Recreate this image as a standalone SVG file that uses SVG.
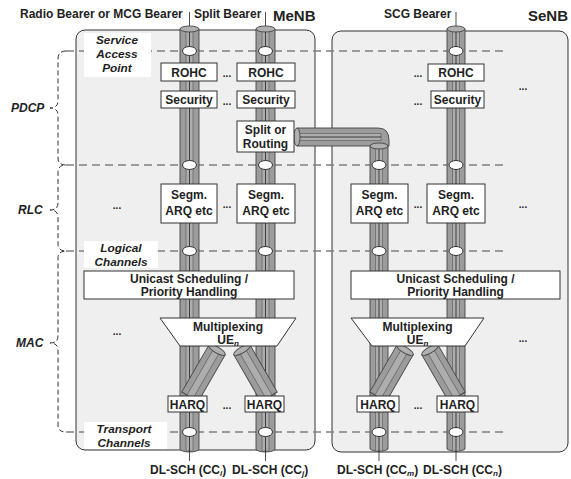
<svg xmlns="http://www.w3.org/2000/svg" width="571" height="479" viewBox="0 0 571 479">
<defs>
<style>
text{font-family:"Liberation Sans",Arial,sans-serif;font-weight:bold;fill:#222;}
.t{font-size:12px;text-anchor:middle;}
.hd{font-size:12px;}
.big{font-size:15px;}
.it{font-style:italic;font-size:11.8px;text-anchor:middle;}
.dots{font-size:10px;text-anchor:middle;}
.enb{fill:#efefef;stroke:#333;stroke-width:1;}
.box{fill:#fff;stroke:#333;stroke-width:1;}
.lbl{fill:#fff;stroke:none;}
.dash{stroke:#808080;stroke-width:1.4;stroke-dasharray:8 5;fill:none;}
.brace{stroke:#333;stroke-width:1;stroke-dasharray:5 3;fill:none;}
.tube{fill:#9c9c9c;stroke:#444;stroke-width:0.9;}
.cap{fill:#b0b0b0;stroke:#444;stroke-width:0.9;}
.strip{fill:#adadad;stroke:#555;stroke-width:0.6;}
.cl{stroke:#222;stroke-width:0.8;fill:none;}
.sap{fill:#fff;stroke:#333;stroke-width:1;}
</style>
</defs>

<!-- eNB containers -->
<g id="menb"><rect class="enb" x="76" y="30" width="239" height="420" rx="9"/></g>
<g id="senb"><rect class="enb" x="332" y="31" width="236" height="421" rx="9"/></g>

<!-- layer separation lines and brace -->
<g id="layers">
<path class="dash" d="M66,51 H508 M66,165 H508 M66,251 H508 M66,432 H508"/>
<path class="brace" d="M66,51 Q58,51 58,59 V101 Q58,108 50,108 Q58,108 58,115 V158 Q58,165 66,165 Q58,165 58,172 V203 Q58,210 50,210 Q58,210 58,217 V244 Q58,251 66,251 Q58,251 58,258 V336 Q58,343 50,343 Q58,343 58,350 V425 Q58,432 66,432"/>
<text x="11" y="112" class="hd" font-style="italic" font-size="11px">PDCP</text>
<text x="18" y="214" class="hd" font-style="italic">RLC</text>
<text x="16" y="347" class="hd" font-style="italic">MAC</text>
</g>

<!-- connectors: bearer tubes -->
<g id="connectors">
<path class="cl" d="M189.5,12 V29 M265.5,12 V29 M456,12 V29 M189.5,449 V461 M265.5,449 V461 M379,449 V461 M456,449 V461"/>
<!-- tube 1 -->
<path class="tube" d="M180,29 V449 A9.5,3 0 0 0 199,449 V29 Z"/>
<rect class="strip" x="186" y="31" width="7" height="420"/>
<line class="cl" x1="189.5" y1="31" x2="189.5" y2="452"/>
<ellipse class="cap" cx="189.5" cy="29" rx="9.5" ry="3"/>
<!-- tube 2 -->
<path class="tube" d="M256,29 V449 A9.5,3 0 0 0 275,449 V29 Z"/>
<rect class="strip" x="262" y="31" width="7" height="420"/>
<line class="cl" x1="265.5" y1="31" x2="265.5" y2="452"/>
<ellipse class="cap" cx="265.5" cy="29" rx="9.5" ry="3"/>
<!-- routing pipe -->
<path class="tube" d="M297,128 H378 Q389,128 389,140 V146 H370 H297 Z"/>
<rect class="strip" x="297" y="133.5" width="84" height="7"/>
<line class="cl" x1="297" y1="137" x2="381" y2="137"/>
<ellipse class="cap" cx="297" cy="137" rx="3" ry="9"/>
<!-- tube 3 -->
<path class="tube" d="M370,146 V449 A9.5,3 0 0 0 388,449 V146 Z"/>
<rect class="strip" x="375.5" y="148" width="7" height="303"/>
<line class="cl" x1="379" y1="146" x2="379" y2="452"/>
<ellipse class="cap" cx="379" cy="146" rx="9" ry="3"/>
<!-- tube 4 -->
<path class="tube" d="M447,29 V449 A9.5,3 0 0 0 465,449 V29 Z"/>
<rect class="strip" x="452.5" y="31" width="7" height="420"/>
<line class="cl" x1="456" y1="31" x2="456" y2="452"/>
<ellipse class="cap" cx="456" cy="29" rx="9" ry="3"/>
<!-- diagonal tubes MeNB -->
<g transform="translate(217,350) rotate(30)">
<path class="tube" d="M-9.5,0 V54 H9.5 V0 Z"/><rect class="strip" x="-3.5" y="2" width="7" height="52"/><ellipse class="cap" cx="0" cy="0" rx="9.5" ry="3"/></g>
<g transform="translate(242,350) rotate(-30)">
<path class="tube" d="M-9.5,0 V54 H9.5 V0 Z"/><rect class="strip" x="-3.5" y="2" width="7" height="52"/><ellipse class="cap" cx="0" cy="0" rx="9.5" ry="3"/></g>
<!-- diagonal tubes SeNB -->
<g transform="translate(405,350) rotate(30)">
<path class="tube" d="M-9.5,0 V54 H9.5 V0 Z"/><rect class="strip" x="-3.5" y="2" width="7" height="52"/><ellipse class="cap" cx="0" cy="0" rx="9.5" ry="3"/></g>
<g transform="translate(430,350) rotate(-30)">
<path class="tube" d="M-9.5,0 V54 H9.5 V0 Z"/><rect class="strip" x="-3.5" y="2" width="7" height="52"/><ellipse class="cap" cx="0" cy="0" rx="9.5" ry="3"/></g>
<!-- SAP ellipses -->
<g>
<ellipse class="sap" cx="189.5" cy="51" rx="7" ry="4.5"/><ellipse class="sap" cx="265.5" cy="51" rx="7" ry="4.5"/><ellipse class="sap" cx="456" cy="51" rx="7" ry="4.5"/>
<ellipse class="sap" cx="189.5" cy="165" rx="7" ry="4.5"/><ellipse class="sap" cx="265.5" cy="165" rx="7" ry="4.5"/><ellipse class="sap" cx="379" cy="165" rx="7" ry="4.5"/><ellipse class="sap" cx="456" cy="165" rx="7" ry="4.5"/>
<ellipse class="sap" cx="189.5" cy="251" rx="7" ry="4.5"/><ellipse class="sap" cx="265.5" cy="251" rx="7" ry="4.5"/><ellipse class="sap" cx="379" cy="251" rx="7" ry="4.5"/><ellipse class="sap" cx="456" cy="251" rx="7" ry="4.5"/>
<ellipse class="sap" cx="189.5" cy="432" rx="7" ry="4.5"/><ellipse class="sap" cx="265.5" cy="432" rx="7" ry="4.5"/><ellipse class="sap" cx="379" cy="432" rx="7" ry="4.5"/><ellipse class="sap" cx="456" cy="432" rx="7" ry="4.5"/>
</g>
</g>

<!-- channel labels -->
<g id="sap-label"><rect class="lbl" x="84" y="33" width="67" height="44"/>
<text class="it" x="117" y="44">Service</text><text class="it" x="117" y="58">Access</text><text class="it" x="117" y="72">Point</text></g>
<g id="logical-label"><rect class="lbl" x="84" y="241" width="74" height="27"/>
<text class="it" x="121" y="252">Logical</text><text class="it" x="121" y="266">Channels</text></g>
<g id="transport-label"><rect class="lbl" x="84" y="422" width="83" height="27"/>
<text class="it" x="124" y="433">Transport</text><text class="it" x="124" y="447">Channels</text></g>

<!-- headers -->
<g id="headers">
<text class="hd" x="20" y="18">Radio Bearer or MCG Bearer</text>
<text class="hd" x="194" y="18">Split Bearer</text>
<text class="hd big" x="273" y="21">MeNB</text>
<text class="hd" x="384" y="18">SCG Bearer</text>
<text class="hd big" x="528" y="21">SeNB</text>
</g>

<!-- PDCP boxes -->
<g id="rohc1"><rect class="box" x="161" y="63" width="56" height="18"/><text class="t" x="189" y="76.5">ROHC</text></g>
<g id="rohc2"><rect class="box" x="237" y="63" width="58" height="18"/><text class="t" x="266" y="76.5">ROHC</text></g>
<g id="rohc3"><rect class="box" x="428" y="64" width="56" height="17"/><text class="t" x="456" y="77">ROHC</text></g>
<g id="sec1"><rect class="box" x="161" y="91" width="56" height="17"/><text class="t" x="189" y="104">Security</text></g>
<g id="sec2"><rect class="box" x="237" y="91" width="58" height="17"/><text class="t" x="266" y="104">Security</text></g>
<g id="sec3"><rect class="box" x="431" y="91" width="53" height="17"/><text class="t" x="457.5" y="104">Security</text></g>
<g id="split"><rect class="box" x="237" y="121" width="57" height="31"/><text class="t" x="265.5" y="134">Split or</text><text class="t" x="265.5" y="148">Routing</text></g>

<!-- RLC boxes -->
<g id="rlc1"><rect class="box" x="161" y="184" width="56" height="39"/><text class="t" x="189" y="199">Segm.</text><text class="t" x="189" y="215">ARQ etc</text></g>
<g id="rlc2"><rect class="box" x="237" y="184" width="58" height="39"/><text class="t" x="266" y="199">Segm.</text><text class="t" x="266" y="215">ARQ etc</text></g>
<g id="rlc3"><rect class="box" x="351" y="184" width="57" height="39"/><text class="t" x="379.5" y="199">Segm.</text><text class="t" x="379.5" y="215">ARQ etc</text></g>
<g id="rlc4"><rect class="box" x="427" y="184" width="58" height="39"/><text class="t" x="456" y="199">Segm.</text><text class="t" x="456" y="215">ARQ etc</text></g>

<!-- MAC -->
<g id="sched1"><rect class="box" x="84" y="271" width="210" height="28"/><text class="t" x="189" y="283">Unicast Scheduling /</text><text class="t" x="189" y="296">Priority Handling</text></g>
<g id="sched2"><rect class="box" x="351" y="271" width="209" height="28"/><text class="t" x="455.5" y="283">Unicast Scheduling /</text><text class="t" x="455.5" y="296">Priority Handling</text></g>
<g id="mux1"><path class="box" d="M160,318 H296 L277,346 H180 Z"/><text class="t" x="228" y="331">Multiplexing</text><text class="t" x="228" y="344">UE<tspan font-style="italic" font-size="8" dy="2">n</tspan></text></g>
<g id="mux2"><path class="box" d="M351,318 H484 L465,346 H372 Z"/><text class="t" x="417.5" y="331">Multiplexing</text><text class="t" x="417.5" y="344">UE<tspan font-style="italic" font-size="8" dy="2">n</tspan></text></g>
<g id="harq1"><rect class="box" x="168" y="396" width="39" height="16"/><text class="t" x="187.5" y="408.5">HARQ</text></g>
<g id="harq2"><rect class="box" x="245" y="396" width="39" height="16"/><text class="t" x="264.5" y="408.5">HARQ</text></g>
<g id="harq3"><rect class="box" x="357" y="396" width="42" height="16"/><text class="t" x="378" y="408.5">HARQ</text></g>
<g id="harq4"><rect class="box" x="437" y="396" width="41" height="16"/><text class="t" x="457.5" y="408.5">HARQ</text></g>

<!-- ellipsis markers -->
<g id="ellipses">
<text class="dots" x="227" y="77">...</text><text class="dots" x="227" y="105">...</text>
<text class="dots" x="418" y="77">...</text><text class="dots" x="418" y="105">...</text>
<text class="dots" x="523" y="90">...</text>
<text class="dots" x="117" y="209">...</text><text class="dots" x="227" y="208">...</text><text class="dots" x="418" y="208">...</text><text class="dots" x="523" y="208">...</text>
<text class="dots" x="117" y="335">...</text><text class="dots" x="523" y="342">...</text>
<text class="dots" x="227" y="409">...</text><text class="dots" x="418" y="409">...</text>
</g>

<!-- bottom labels -->
<g id="footers">
<text class="hd" x="150" y="474">DL-SCH (CC<tspan font-style="italic" font-size="8" dy="2">i</tspan><tspan dy="-2">)</tspan></text>
<text class="hd" x="232" y="474">DL-SCH (CC<tspan font-style="italic" font-size="8" dy="2">j</tspan><tspan dy="-2">)</tspan></text>
<text class="hd" x="337" y="474">DL-SCH (CC<tspan font-style="italic" font-size="8" dy="2">m</tspan><tspan dy="-2">)</tspan></text>
<text class="hd" x="423" y="474">DL-SCH (CC<tspan font-style="italic" font-size="8" dy="2">n</tspan><tspan dy="-2">)</tspan></text>
</g>
</svg>
